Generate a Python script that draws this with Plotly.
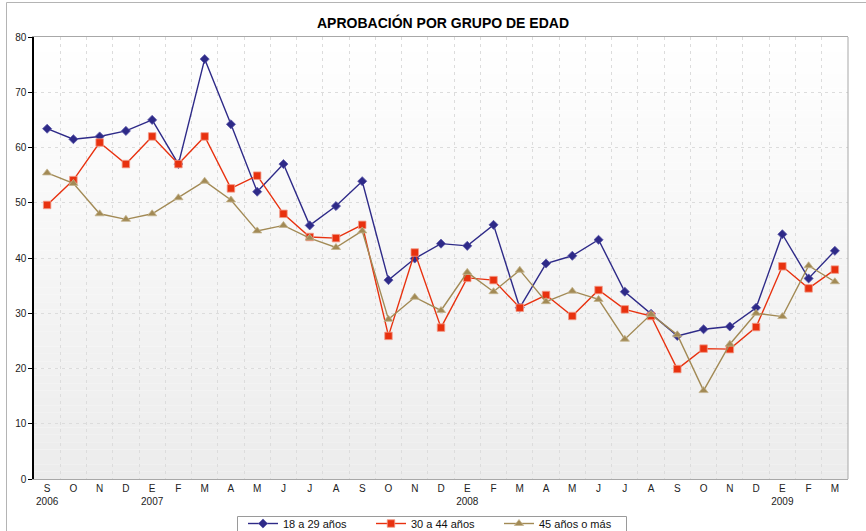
import plotly.graph_objects as go

months = ["S", "O", "N", "D", "E", "F", "M", "A", "M", "J", "J", "A", "S", "O", "N", "D",
          "E", "F", "M", "A", "M", "J", "J", "A", "S", "O", "N", "D", "E", "F", "M"]
years = ["2006", "", "", "", "2007", "", "", "", "", "", "", "", "", "", "", "",
         "2008", "", "", "", "", "", "", "", "", "", "", "", "2009", "", ""]

s18_29 = [63.4, 61.5, 62.0, 63.0, 65.0, 57.0, 76.0, 64.2, 52.0, 57.0, 45.9, 49.4, 53.9,
          36.0, 39.9, 42.6, 42.2, 46.0, 31.0, 39.0, 40.4, 43.3, 33.9, 29.9, 25.9, 27.1,
          27.6, 31.0, 44.3, 36.3, 41.3]
s30_44 = [49.6, 54.1, 60.9, 57.0, 62.0, 57.0, 62.0, 52.6, 54.9, 48.0, 43.8, 43.6, 46.0,
          25.9, 41.0, 27.4, 36.4, 36.0, 31.0, 33.3, 29.5, 34.2, 30.7, 29.5, 19.9, 23.6,
          23.5, 27.5, 38.5, 34.5, 37.9]
s45 = [55.4, 53.5, 48.0, 47.0, 48.0, 50.9, 53.9, 50.5, 44.9, 45.9, 43.6, 41.9, 44.9,
       28.9, 32.9, 30.5, 37.4, 33.9, 37.8, 32.1, 34.0, 32.5, 25.3, 29.8, 26.1, 16.0,
       24.4, 30.0, 29.4, 38.6, 35.7]

series_names = ["18 a 29 años", "30 a 44 años", "45 años o más"]
y_ticks = [0, 10, 20, 30, 40, 50, 60, 70, 80]

x = list(range(len(months)))
tick_text = [m + ("<br>" + y if y else "") for m, y in zip(months, years)]

FONT = "Liberation Sans, Arial, sans-serif"

fig = go.Figure()
fig.add_trace(go.Scatter(
    x=x, y=s18_29, name=series_names[0], mode="lines+markers",
    line=dict(color="#2e2a88", width=1.4),
    marker=dict(symbol="diamond", size=7, color="#2e2a88",
                line=dict(color="#5a57a8", width=0.8)),
))
fig.add_trace(go.Scatter(
    x=x, y=s30_44, name=series_names[1], mode="lines+markers",
    line=dict(color="#e8310f", width=1.4),
    marker=dict(symbol="square", size=7.5, color="#e8310f",
                line=dict(color="#f29a88", width=0.8)),
))
fig.add_trace(go.Scatter(
    x=x, y=s45, name=series_names[2], mode="lines+markers",
    line=dict(color="#a28a55", width=1.4),
    marker=dict(symbol="triangle-up", size=8, color="#a28a55",
                line=dict(color="#c4b48e", width=0.8)),
))

PW, PH, PL, PB = 814.0, 442.0, 34.0, 479.0


def px_x(p):
    return (p - PL) / PW


def px_y(p):
    return (PB - p) / PH


shapes = []
# gradient background of plot area
N = 60
for i in range(N):
    t = i / (N - 1)
    c = int(round(255 - (255 - 236) * (1 - t)))
    shapes.append(dict(type="rect", xref="paper", yref="paper",
                       x0=0, x1=1, y0=i / N, y1=(i + 1) / N,
                       fillcolor=f"rgb({c},{c},{c})", line=dict(width=0),
                       layer="below"))
# right border of plot area
shapes.append(dict(type="line", xref="paper", yref="paper", x0=1, x1=1, y0=0, y1=1,
                   line=dict(color="#a8a8a8", width=1)))
# outer chart border (left and top)
shapes.append(dict(type="line", xref="paper", yref="paper",
                   x0=px_x(6.5), x1=px_x(6.5), y0=px_y(560), y1=px_y(2.5),
                   line=dict(color="#b4b4b4", width=1)))
shapes.append(dict(type="line", xref="paper", yref="paper",
                   x0=px_x(6.5), x1=px_x(880), y0=px_y(2.5), y1=px_y(2.5),
                   line=dict(color="#b4b4b4", width=1)))
# legend frame
shapes.append(dict(type="rect", xref="paper", yref="paper",
                   x0=px_x(237.5), x1=px_x(626.5), y0=px_y(560), y1=px_y(516.5),
                   fillcolor="white", line=dict(color="#9a9a9a", width=1)))

fig.update_layout(
    width=866, height=531,
    margin=dict(l=34, r=18, t=37, b=52, autoexpand=False),
    paper_bgcolor="white", plot_bgcolor="rgba(0,0,0,0)",
    font=dict(family=FONT, size=10, color="#222222"),
    title=dict(text="<b>APROBACIÓN POR GRUPO DE EDAD</b>", x=443 / 866, xanchor="center",
               y=0.956, yanchor="middle",
               font=dict(family=FONT, size=14, color="#000000")),
    showlegend=True,
    legend=dict(orientation="h", x=px_x(243), xanchor="left", y=px_y(509), yanchor="top",
                borderwidth=0, bgcolor="rgba(0,0,0,0)",
                font=dict(family=FONT, size=11, color="#111111"),
                entrywidth=83, entrywidthmode="pixels", traceorder="normal"),
    shapes=shapes,
    xaxis=dict(
        range=[-0.5, 30.5], tickmode="array", tickvals=x, ticktext=tick_text,
        showgrid=False, zeroline=False, ticks="",
        showline=True, mirror=True, linecolor="#a8a8a8", linewidth=1,
        tickfont=dict(family=FONT, size=10, color="#222222"),
        minor=dict(tickmode="linear", tick0=-0.5, dtick=1, showgrid=True,
                   gridcolor="#dcdcdc", griddash="3px,4px", gridwidth=1, ticks=""),
    ),
    yaxis=dict(
        range=[0, 80], tickmode="array", tickvals=y_ticks,
        showgrid=True, gridcolor="#dcdcdc", griddash="3px,4px", gridwidth=1,
        zeroline=False, showline=True, linecolor="#000000", linewidth=1.5,
        ticks="outside", ticklen=4, tickcolor="#000000", tickwidth=1,
        tickfont=dict(family=FONT, size=10, color="#222222"),
    ),
)

fig.write_html(
    "out.html",
    config={"displayModeBar": False},
    post_script="document.body.style.margin='0';document.body.style.overflow='hidden';",
)
